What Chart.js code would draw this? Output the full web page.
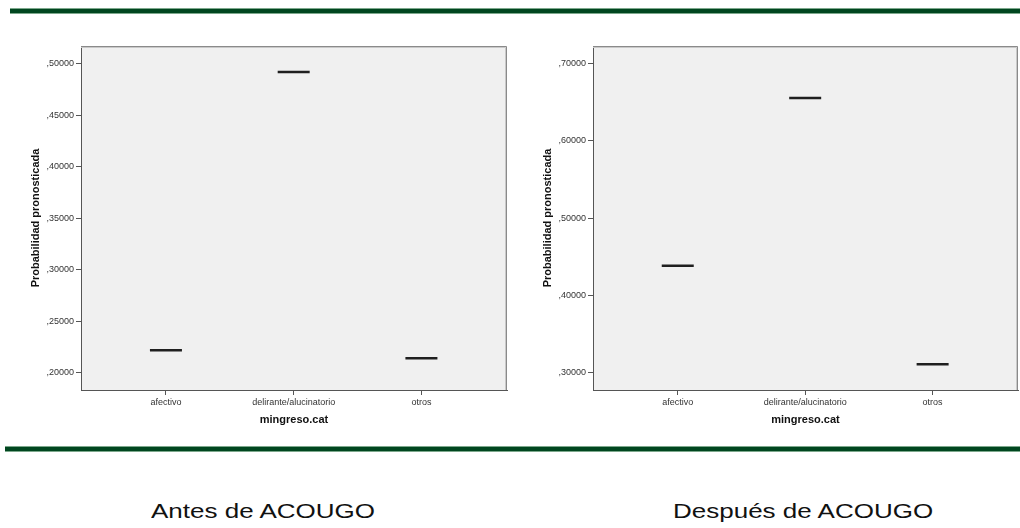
<!DOCTYPE html>
<html>
<head>
<meta charset="utf-8">
<script src="https://cdn.jsdelivr.net/npm/chart.js@4/dist/chart.umd.min.js"></script>
<style>
  body {
    margin: 0;
    width: 1020px;
    height: 528px;
    background: #fff;
    position: relative;
    overflow: hidden;
    font-family: "Liberation Sans", Arial, sans-serif;
  }
  .rule {
    position: absolute;
    right: 0;
    height: 4px;
    background: #00461f;
    border-top: 1px solid #7da88c;
    border-bottom: 1px solid #7da88c;
  }
  canvas { position: absolute; top: 40px; }
  .caption {
    position: absolute;
    top: 500px;
    font-size: 20px;
    color: #111;
    white-space: nowrap;
    transform: scaleX(1.3);
    transform-origin: left top;
  }
</style>
</head>
<body>
<div class="rule" style="left:10px; top:8px;"></div>
<div class="rule" style="left:5px; top:446px;"></div>

<canvas id="antesChart" width="490" height="400" style="left:20px;"></canvas>
<canvas id="despuesChart" width="488" height="400" style="left:532px;"></canvas>

<div class="caption" style="left:151px;">Antes de ACOUGO</div>
<div class="caption" style="left:673px;">Después de ACOUGO</div>

<script>
const categories = ["afectivo", "delirante/alucinatorio", "otros"];

// predicted probability per admission type
const antesValues = [0.2217, 0.4919, 0.2140];
const despuesValues = [0.4385, 0.6556, 0.3109];

const antesTicks = [0.20, 0.25, 0.30, 0.35, 0.40, 0.45, 0.50];
const despuesTicks = [0.30, 0.40, 0.50, 0.60, 0.70];

// grey plot panel with a light frame on top and right
const plotFrame = {
  id: "plotFrame",
  beforeDraw(chart) {
    const { ctx, chartArea: a } = chart;
    ctx.save();
    ctx.fillStyle = "#f0f0f0";
    ctx.fillRect(a.left, a.top, a.width, a.height);
    ctx.restore();
  },
  afterDraw(chart) {
    const { ctx, chartArea: a } = chart;
    ctx.save();
    ctx.lineWidth = 1;
    ctx.strokeStyle = "#8a8a8a";
    ctx.beginPath();
    ctx.moveTo(a.left, a.top + 0.5);
    ctx.lineTo(a.right - 0.5, a.top + 0.5);
    ctx.lineTo(a.right - 0.5, a.bottom);
    ctx.stroke();
    ctx.strokeStyle = "#c9c9c9";
    ctx.beginPath();
    ctx.moveTo(a.left, a.top + 1.5);
    ctx.lineTo(a.right - 1.5, a.top + 1.5);
    ctx.lineTo(a.right - 1.5, a.bottom);
    ctx.stroke();
    ctx.restore();
  }
};

const tickFont = { family: "'Liberation Sans', Arial, sans-serif", size: 9 };
const titleFont = { family: "'Liberation Sans', Arial, sans-serif", size: 11, weight: "bold" };

// axes keep a fixed size and no label overflow padding
function fixBox(size, horizontal) {
  return (s) => {
    if (horizontal) s.height = size;
    else s.width = size;
    s.paddingTop = 0;
    s.paddingBottom = 0;
    s.paddingLeft = 0;
    s.paddingRight = 0;
  };
}

function makeChart(id, values, yTicks, yMin, yMax, rightPad) {
  const ctx = document.getElementById(id).getContext("2d");
  return new Chart(ctx, {
    type: "scatter",
    data: {
      datasets: [
        {
          data: values.map((v, i) => ({ x: i, y: v })),
          pointStyle: "line",
          pointRadius: 16,
          pointHoverRadius: 16,
          pointBorderWidth: 2.5,
          pointHoverBorderWidth: 2.5,
          borderColor: "#1f1f1f",
          backgroundColor: "#1f1f1f",
        },
      ],
    },
    options: {
      responsive: false,
      animation: false,
      events: [],
      layout: {
        autoPadding: false,
        padding: { top: 6, right: rightPad, left: 0, bottom: 0 },
      },
      plugins: {
        legend: { display: false },
        tooltip: { enabled: false },
      },
      scales: {
        x: {
          type: "linear",
          min: -0.665,
          max: 2.67,
          afterBuildTicks: (s) => {
            s.ticks = categories.map((_, i) => ({ value: i }));
          },
          afterFit: fixBox(50, true),
          ticks: {
            autoSkip: false,
            maxRotation: 0,
            padding: 2,
            color: "#333",
            font: tickFont,
            callback: (v) => categories[v],
          },
          grid: { drawOnChartArea: false, tickLength: 5, color: "#555" },
          border: { display: true, color: "#555", width: 1 },
          title: {
            display: true,
            text: "mingreso.cat",
            color: "#111",
            font: titleFont,
            padding: { top: 4, bottom: 13 },
          },
        },
        y: {
          min: yMin,
          max: yMax,
          afterBuildTicks: (s) => {
            s.ticks = yTicks.map((v) => ({ value: v }));
          },
          afterFit: fixBox(61, false),
          ticks: {
            padding: 2,
            color: "#333",
            font: tickFont,
            callback: (v) => "," + v.toFixed(5).split(".")[1],
          },
          grid: { drawOnChartArea: false, tickLength: 5, color: "#555" },
          border: { display: true, color: "#555", width: 1 },
          title: {
            display: true,
            text: "Probabilidad pronosticada",
            color: "#111",
            font: titleFont,
            padding: { top: 9, bottom: 4 },
          },
        },
      },
    },
    plugins: [plotFrame],
  });
}

makeChart("antesChart", antesValues, antesTicks, 0.1832, 0.5172, 3);
makeChart("despuesChart", despuesValues, despuesTicks, 0.2776, 0.7229, 2);
</script>
</body>
</html>
